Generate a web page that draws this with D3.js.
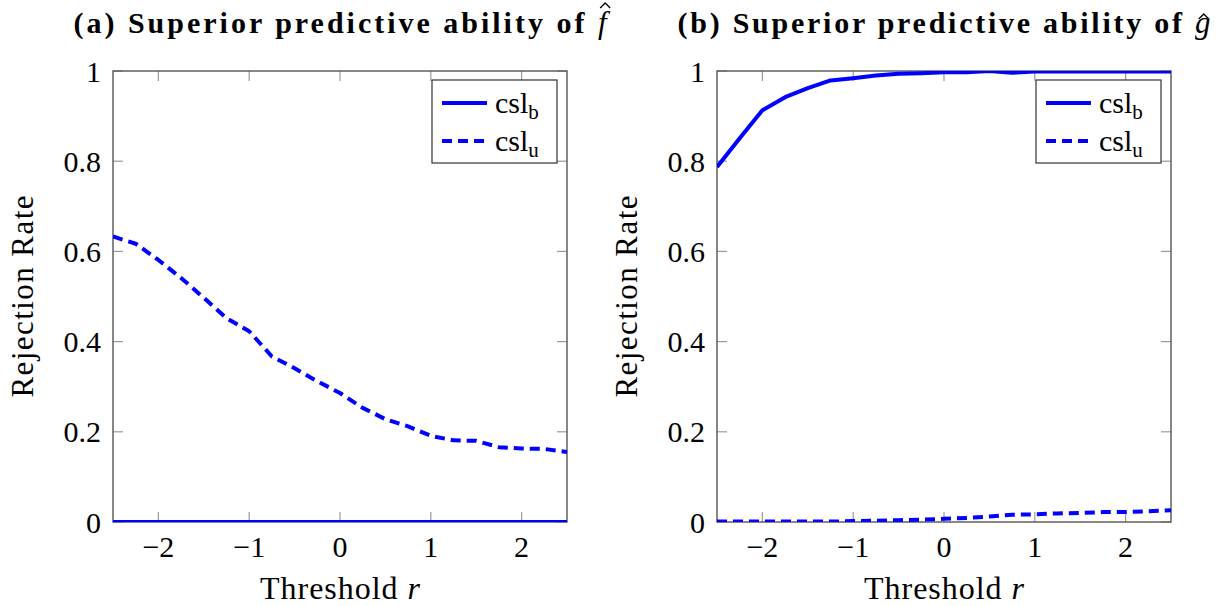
<!DOCTYPE html>
<html>
<head>
<meta charset="utf-8">
<script src="https://cdn.jsdelivr.net/npm/d3@7"></script>
<style>
  html, body { margin: 0; padding: 0; background: #fff; }
  svg { display: block; }
  text { font-family: "Liberation Serif", "Times New Roman", serif; fill: #000; }
</style>
</head>
<body>
<svg id="chart" width="1227" height="606"></svg>
<script>
// ---- data ----
const thresholds = [-2.5, -2.25, -2.0, -1.75, -1.5, -1.25, -1.0, -0.75, -0.5, -0.25, 0.0,
                    0.25, 0.5, 0.75, 1.0, 1.25, 1.5, 1.75, 2.0, 2.25, 2.5];
// panel (a)
const fCslB = [0, 0, 0, 0, 0, 0, 0, 0, 0, 0, 0, 0, 0, 0, 0, 0, 0, 0, 0, 0, 0];
const fCslU = [0.633, 0.617, 0.581, 0.541, 0.497, 0.452, 0.423, 0.367, 0.341, 0.312, 0.286,
               0.253, 0.228, 0.212, 0.191, 0.181, 0.180, 0.166, 0.163, 0.162, 0.155];
// panel (b)
const gCslB = [0.787, 0.851, 0.913, 0.942, 0.962, 0.979, 0.984, 0.990, 0.994, 0.995, 0.997,
               0.997, 1.0, 0.996, 0.999, 0.999, 0.999, 0.999, 0.999, 0.999, 0.999];
const gCslU = [0.001, 0.001, 0.001, 0.001, 0.001, 0.001, 0.002, 0.003, 0.004, 0.005, 0.007,
               0.009, 0.012, 0.016, 0.017, 0.019, 0.020, 0.022, 0.022, 0.024, 0.026];
const xTicks = [-2, -1, 0, 1, 2];
const yTicks = [0, 0.2, 0.4, 0.6, 0.8, 1];
const yTickLabels = ["0", "0.2", "0.4", "0.6", "0.8", "1"];
const seriesNames = ["b", "u"];
const titles = [
  { pre: "(a) Superior predictive ability of ", sym: "f" },
  { pre: "(b) Superior predictive ability of ", sym: "g" }
];
const xLabel = "Threshold ";
const yLabel = "Rejection Rate";

// ---- layout ----
const svg = d3.select("#chart");
const panels = [
  { left: 113, right: 567, data: [fCslB, fCslU], title: titles[0], ylabX: 33 },
  { left: 717, right: 1171, data: [gCslB, gCslU], title: titles[1], ylabX: 637 }
];
const plotTop = 71, plotBottom = 522;
const blue = "#0000ff";
const frameColor = "#555";
const tickColor = "#9a9a9a";
const tickLen = 10;

function fitWidth(sel, target) {
  const w = sel.node().getComputedTextLength();
  if (w > 0) sel.attr("textLength", target).attr("lengthAdjust", "spacing");
}

panels.forEach((p, i) => {
  const x = d3.scaleLinear().domain([-2.5, 2.5]).range([p.left, p.right]);
  const y = d3.scaleLinear().domain([0, 1]).range([plotBottom, plotTop]);
  const g = svg.append("g");

  const clipId = "clip" + i;
  svg.append("defs").append("clipPath").attr("id", clipId)
    .append("rect").attr("x", p.left).attr("y", plotTop)
    .attr("width", p.right - p.left).attr("height", plotBottom - plotTop);

  // ticks (inside, on all four sides)
  const tg = g.append("g").attr("stroke", tickColor).attr("stroke-width", 1.2);
  xTicks.forEach(t => {
    tg.append("line").attr("x1", x(t)).attr("x2", x(t)).attr("y1", plotBottom).attr("y2", plotBottom - tickLen);
    tg.append("line").attr("x1", x(t)).attr("x2", x(t)).attr("y1", plotTop).attr("y2", plotTop + tickLen);
  });
  yTicks.forEach(t => {
    tg.append("line").attr("x1", p.left).attr("x2", p.left + tickLen).attr("y1", y(t)).attr("y2", y(t));
    tg.append("line").attr("x1", p.right).attr("x2", p.right - tickLen).attr("y1", y(t)).attr("y2", y(t));
  });

  // frame
  g.append("rect").attr("x", p.left).attr("y", plotTop)
    .attr("width", p.right - p.left).attr("height", plotBottom - plotTop)
    .attr("fill", "none").attr("stroke", frameColor).attr("stroke-width", 1.4);

  // tick labels
  xTicks.forEach(t => {
    g.append("text").attr("x", x(t)).attr("y", plotBottom + 35)
      .attr("text-anchor", "middle").attr("font-size", 30)
      .text(t < 0 ? "\u2212" + Math.abs(t) : String(t));
  });
  yTicks.forEach((t, k) => {
    g.append("text").attr("x", p.left - 12).attr("y", y(t)).attr("dy", "0.35em")
      .attr("text-anchor", "end").attr("font-size", 30)
      .text(yTickLabels[k]);
  });

  // axis labels
  const xl = g.append("text").attr("x", (p.left + p.right) / 2).attr("y", 599)
    .attr("text-anchor", "middle").attr("font-size", 32);
  xl.append("tspan").text(xLabel);
  xl.append("tspan").attr("font-style", "italic").text("r");
  fitWidth(xl, 160);

  const yl = g.append("text")
    .attr("transform", `translate(${p.ylabX},${(plotTop + plotBottom) / 2}) rotate(-90)`)
    .attr("text-anchor", "middle").attr("font-size", 31).text(yLabel);
  fitWidth(yl, 202);

  // title: bold text + italic symbol with a hat
  const cx = (p.left + p.right) / 2;
  const targetW = 533;
  const tt = g.append("text").attr("y", 33).attr("font-size", 27);
  const preSpan = tt.append("tspan").attr("font-weight", "bold").text(p.title.pre);
  const symSpan = tt.append("tspan").attr("font-style", "italic").attr("font-size", 31).text(p.title.sym);
  let w = tt.node().getComputedTextLength();
  const symW = symSpan.node().getComputedTextLength();
  const preW = w - symW;
  let fs = Math.min(30, 27 * (targetW - symW - 6) / preW);
  preSpan.attr("font-size", fs);
  w = tt.node().getComputedTextLength();
  const nChars = p.title.pre.length;
  const ls = Math.max(0, (targetW - w) / nChars);
  preSpan.attr("letter-spacing", ls);
  w = tt.node().getComputedTextLength();
  tt.attr("x", cx - w / 2);
  // hat accent over the symbol
  const n = p.title.pre.length + p.title.sym.length;
  const ext = tt.node().getExtentOfChar(n - 1);
  const isF = p.title.sym === "f";
  const hx = ext.x + ext.width / 2 + (isF ? 3 : 1);
  const hy = isF ? 3 : 14;
  g.append("path")
    .attr("d", `M${hx - 5},${hy + 5} L${hx},${hy} L${hx + 5},${hy + 5}`)
    .attr("fill", "none").attr("stroke", "#000").attr("stroke-width", 1.4)
    .attr("stroke-linejoin", "miter");

  // series
  const line = d3.line().x((d, k) => x(thresholds[k])).y(d => y(d));
  const pg = g.append("g").attr("clip-path", `url(#${clipId})`);
  p.data.forEach((vals, s) => {
    pg.append("path").datum(vals).attr("d", line)
      .attr("fill", "none").attr("stroke", blue).attr("stroke-width", 4)
      .attr("stroke-linejoin", "round")
      .attr("stroke-dasharray", s === 1 ? "10,6" : null);
  });

  // legend
  const lx = p.right - 135, ly = 80;
  const lg = g.append("g");
  lg.append("rect").attr("x", lx).attr("y", ly).attr("width", 125).attr("height", 83)
    .attr("fill", "#fff").attr("stroke", "#333").attr("stroke-width", 1.2);
  seriesNames.forEach((nm, s) => {
    const yy = ly + 23 + s * 38;
    lg.append("line").attr("x1", lx + 10).attr("x2", lx + 55).attr("y1", yy).attr("y2", yy)
      .attr("stroke", blue).attr("stroke-width", 4)
      .attr("stroke-dasharray", s === 1 ? "10,6" : null);
    const t = lg.append("text").attr("x", lx + 63).attr("y", yy + 10).attr("font-size", 30);
    t.append("tspan").text("csl");
    t.append("tspan").attr("font-size", 21).attr("dy", 6).text(nm);
  });
});
</script>
</body>
</html>
